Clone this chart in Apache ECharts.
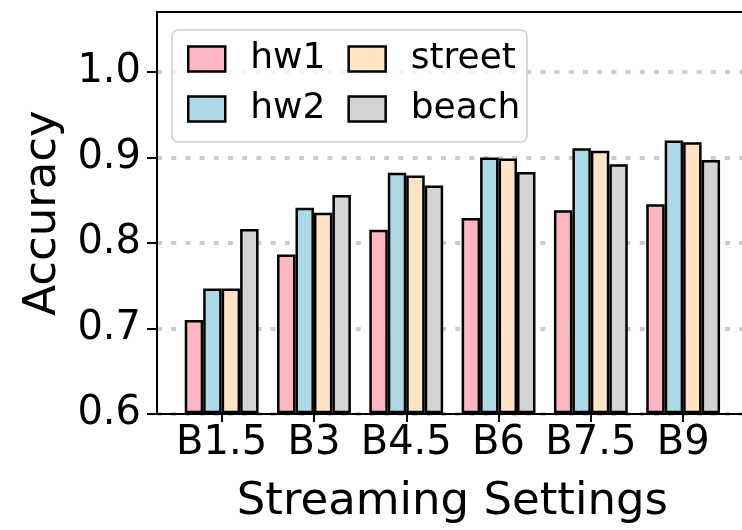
<!DOCTYPE html>
<html>
<head>
<meta charset="utf-8">
<script src="https://cdn.jsdelivr.net/npm/echarts@6/dist/echarts.min.js"></script>
<style>
  html, body { margin: 0; padding: 0; background: #fff; }
  #chart { width: 742px; height: 530px; }
</style>
</head>
<body>
<div id="chart"></div>
<script>
// Streaming settings on the x axis
const categories = ['B1.5', 'B3', 'B4.5', 'B6', 'B7.5', 'B9'];

// Accuracy per dataset
const hw1 = [0.708, 0.785, 0.814, 0.828, 0.837, 0.844];
const hw2 = [0.745, 0.840, 0.881, 0.899, 0.910, 0.919];
const street = [0.745, 0.834, 0.878, 0.898, 0.907, 0.917];
const beach = [0.815, 0.855, 0.866, 0.882, 0.891, 0.896];

// Y axis ticks
const yTicks = [0.6, 0.7, 0.8, 0.9, 1.0];
const yMin = 0.6;
const yMax = 1.07;

const FONT = 'DejaVu Sans';
const seriesDefs = [
  { name: 'hw1', data: hw1, color: '#FFB6C1' },
  { name: 'hw2', data: hw2, color: '#ADD8E6' },
  { name: 'street', data: street, color: '#FFE4C4' },
  { name: 'beach', data: beach, color: '#D3D3D3' }
];

const chart = echarts.init(document.getElementById('chart'), null, { renderer: 'canvas' });

const spine = { show: true, onZero: false, lineStyle: { color: '#000', width: 2 } };

const legendText = {
  fontFamily: FONT,
  fontSize: 36,
  color: '#000',
  padding: [0, 0, 0, 20]
};
const legendCommon = {
  orient: 'horizontal',
  itemGap: 22,
  itemWidth: 37,
  itemHeight: 25,
  icon: 'rect',
  itemStyle: { borderColor: '#000', borderWidth: 2.5 },
  textStyle: legendText
};

const option = {
  animation: false,
  backgroundColor: '#fff',
  grid: [
    // frame: full axes box (right edge runs past the canvas)
    { left: 157, right: -6, top: 12, bottom: 116, containLabel: false },
    // bars: category bands inset so outer padding is 0.7 of a band
    { left: 175.5, right: 12.7, top: 12, bottom: 116, containLabel: false }
  ],
  legend: [
    // first row, its box padded down to frame both rows
    Object.assign({}, legendCommon, {
      data: ['hw1', 'street'],
      left: 172,
      top: 30,
      padding: [11, 11, 65, 15],
      backgroundColor: 'rgba(255,255,255,0.8)',
      borderColor: '#cccccc',
      borderWidth: 1.5,
      borderRadius: 6,
      z: 4
    }),
    // second row
    Object.assign({}, legendCommon, {
      data: ['hw2', 'beach'],
      left: 187,
      top: 91,
      padding: 0,
      z: 5
    })
  ],
  xAxis: [
    {
      gridIndex: 0, type: 'value', min: 0, max: 1, position: 'bottom',
      axisLine: spine, axisTick: { show: false }, axisLabel: { show: false },
      splitLine: { show: false }
    },
    {
      gridIndex: 0, type: 'value', min: 0, max: 1, position: 'top',
      axisLine: spine, axisTick: { show: false }, axisLabel: { show: false },
      splitLine: { show: false }
    },
    {
      gridIndex: 1, type: 'category', data: categories, position: 'bottom',
      axisLine: { show: false },
      axisTick: { show: true, alignWithLabel: true, length: 10, inside: false,
                  lineStyle: { color: '#000', width: 2 } },
      axisLabel: { fontFamily: FONT, fontSize: 40, color: '#000', margin: 12,
                   interval: 0, hideOverlap: false },
      splitLine: { show: false },
      name: 'Streaming Settings',
      nameLocation: 'middle',
      nameGap: 68,
      nameTextStyle: { fontFamily: FONT, fontSize: 45, color: '#000' }
    }
  ],
  yAxis: [
    {
      gridIndex: 0, type: 'value', min: yMin, max: yMax, interval: 0.1,
      position: 'left',
      axisLine: spine,
      axisTick: { show: true, length: 10, inside: false, customValues: yTicks,
                  lineStyle: { color: '#000', width: 2 } },
      axisLabel: {
        fontFamily: FONT, fontSize: 40, color: '#000', margin: 16,
        customValues: yTicks,
        formatter: v => v.toFixed(1)
      },
      splitLine: {
        show: true,
        lineStyle: { color: '#cccccc', width: 4, type: [5, 9.2] }
      },
      name: 'Accuracy',
      nameLocation: 'middle',
      nameGap: 91,
      nameRotate: 90,
      nameTextStyle: { fontFamily: FONT, fontSize: 45, color: '#000' }
    },
    {
      gridIndex: 1, type: 'value', min: yMin, max: yMax,
      show: false
    }
  ],
  series: seriesDefs.map(s => ({
    name: s.name,
    type: 'bar',
    xAxisIndex: 2,
    yAxisIndex: 1,
    data: s.data,
    barGap: '0%',
    barCategoryGap: '20%',
    itemStyle: { color: s.color, borderColor: '#000', borderWidth: 2.5 },
    emphasis: { disabled: true }
  }))
};

chart.setOption(option);
</script>
</body>
</html>
